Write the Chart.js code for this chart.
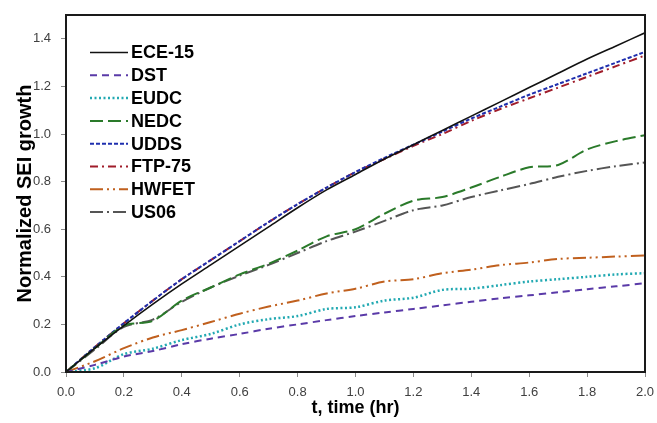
<!DOCTYPE html>
<html>
<head>
<meta charset="utf-8">
<script src="https://cdn.jsdelivr.net/npm/chart.js@4.4.1/dist/chart.umd.min.js"></script>
<style>
    html, body { margin: 0; padding: 0; background: #fff; }
    #wrap { width: 657px; height: 423px; }
</style>
</head>
<body>
<div id="wrap"><canvas id="chart-sei" width="657" height="423"></canvas></div>
<script>
// time axis (hr)
var tHours = [0, 0.1, 0.2, 0.3, 0.4, 0.5, 0.6, 0.7, 0.8, 0.9, 1.0, 1.1, 1.2, 1.3, 1.4, 1.5, 1.6, 1.7, 1.8, 1.9, 2.0];

// normalized SEI growth
var ece15 = [0, 0.10, 0.195, 0.285, 0.37, 0.45, 0.53, 0.61, 0.69, 0.765, 0.83, 0.895, 0.955, 1.015, 1.075, 1.135, 1.195, 1.255, 1.315, 1.37, 1.425];
var dst = [0, 0.03, 0.065, 0.088, 0.117, 0.14, 0.16, 0.182, 0.2, 0.218, 0.235, 0.25, 0.265, 0.28, 0.295, 0.31, 0.322, 0.335, 0.348, 0.36, 0.373];
var eudc = [0, 0.016, 0.075, 0.098, 0.134, 0.16, 0.2, 0.222, 0.235, 0.265, 0.272, 0.3, 0.312, 0.345, 0.35, 0.365, 0.38, 0.39, 0.40, 0.41, 0.415];
var nedc = [0, 0.10, 0.195, 0.215, 0.30, 0.355, 0.41, 0.455, 0.51, 0.57, 0.60, 0.665, 0.72, 0.735, 0.775, 0.82, 0.86, 0.87, 0.935, 0.97, 0.995];
var udds = [0, 0.105, 0.205, 0.30, 0.39, 0.47, 0.55, 0.63, 0.705, 0.775, 0.84, 0.90, 0.955, 1.01, 1.065, 1.115, 1.165, 1.21, 1.255, 1.30, 1.345];
var ftp75 = [0, 0.105, 0.205, 0.30, 0.39, 0.47, 0.55, 0.63, 0.705, 0.775, 0.84, 0.895, 0.95, 1.0, 1.055, 1.105, 1.15, 1.195, 1.24, 1.285, 1.33];
var hwfet = [0, 0.045, 0.10, 0.145, 0.176, 0.21, 0.245, 0.275, 0.30, 0.33, 0.35, 0.38, 0.39, 0.415, 0.43, 0.449, 0.46, 0.475, 0.48, 0.485, 0.49];
var us06 = [0, 0.095, 0.19, 0.22, 0.295, 0.355, 0.405, 0.45, 0.50, 0.55, 0.59, 0.635, 0.68, 0.70, 0.735, 0.763, 0.79, 0.82, 0.845, 0.865, 0.88];

var xTicks = [0, 0.2, 0.4, 0.6, 0.8, 1.0, 1.2, 1.4, 1.6, 1.8, 2.0];
var yTicks = [0, 0.2, 0.4, 0.6, 0.8, 1.0, 1.2, 1.4];

function toPoints(vals) {
    var pts = [];
    for (var i = 0; i < tHours.length; i++) {
        pts.push({ x: tHours[i], y: vals[i] });
    }
    return pts;
}

function series(label, vals, color, dash, width) {
    return {
        label: label,
        data: toPoints(vals),
        borderColor: color,
        backgroundColor: color,
        borderDash: dash,
        borderWidth: width,
        pointRadius: 0,
        tension: 0.3,
        fill: false
    };
}

// legend drawn inside the plot, top left, like the original
var insideLegend = {
    id: 'insideLegend',
    afterDatasetsDraw: function(chart) {
        var ctx = chart.ctx;
        var area = chart.chartArea;
        // plot box on all four sides
        ctx.save();
        ctx.strokeStyle = '#1a1a1a';
        ctx.lineWidth = 2;
        ctx.setLineDash([]);
        ctx.strokeRect(area.left, area.top, area.right - area.left, area.bottom - area.top);

        var x0 = 90, x1 = 128, y0 = 52.5, step = 22.8;
        ctx.font = 'bold 18px "Liberation Sans", Arial, sans-serif';
        ctx.textBaseline = 'middle';
        ctx.textAlign = 'left';
        chart.data.datasets.forEach(function(ds, i) {
            var y = y0 + i * step;
            ctx.beginPath();
            ctx.strokeStyle = ds.borderColor;
            ctx.lineWidth = ds.borderWidth;
            ctx.setLineDash(ds.borderDash);
            ctx.moveTo(x0, y);
            ctx.lineTo(x1, y);
            ctx.stroke();
            ctx.setLineDash([]);
            ctx.fillStyle = '#000';
            ctx.fillText(ds.label, x1 + 3, y + 1);
        });
        ctx.restore();
    }
};

var tickFont = { family: '"Liberation Sans", Arial, sans-serif', size: 13 };

var chartSEI = new Chart(document.getElementById('chart-sei'), {
    type: 'line',
    data: {
        datasets: [
            series('ECE-15', ece15, '#111111', [], 1.6),
            series('DST', dst, '#5a3aa8', [7, 5], 2),
            series('EUDC', eudc, '#22a9b2', [2, 2.5], 2.5),
            series('NEDC', nedc, '#2a7a2a', [13, 5], 2),
            series('UDDS', udds, '#1f2fae', [4, 2], 2),
            series('FTP-75', ftp75, '#a01c2a', [8, 4, 2, 4], 2),
            series('HWFET', hwfet, '#c0601e', [13, 4, 2, 4, 2, 4], 2),
            series('US06', us06, '#555555', [13, 4, 2, 4], 2)
        ]
    },
    options: {
        responsive: false,
        animation: false,
        layout: { padding: { top: 15, right: 12, left: 0, bottom: 0 } },
        plugins: {
            legend: { display: false },
            tooltip: { enabled: false }
        },
        scales: {
            x: {
                type: 'linear',
                min: 0,
                max: 2,
                afterBuildTicks: function(axis) {
                    axis.ticks = xTicks.map(function(v) { return { value: v }; });
                },
                afterFit: function(axis) {
                    axis.height = 51;
                    axis.paddingLeft = 0;
                    axis.paddingRight = 0;
                },
                ticks: {
                    font: tickFont,
                    color: '#404040',
                    padding: 8,
                    callback: function(v) { return v.toFixed(1); }
                },
                grid: { drawOnChartArea: false, tickLength: 5, color: '#8a8a8a' },
                border: { color: '#1a1a1a', width: 2 },
                title: {
                    display: true,
                    text: 't, time (hr)',
                    font: { family: '"Liberation Sans", Arial, sans-serif', size: 18, weight: 'bold' },
                    color: '#000',
                    padding: { top: 0, bottom: 4 }
                }
            },
            y: {
                type: 'linear',
                min: 0,
                max: 1.5,
                afterBuildTicks: function(axis) {
                    axis.ticks = yTicks.map(function(v) { return { value: v }; });
                },
                afterFit: function(axis) {
                    axis.width = 66;
                    axis.paddingTop = 0;
                    axis.paddingBottom = 0;
                },
                ticks: {
                    font: tickFont,
                    color: '#404040',
                    padding: 10,
                    callback: function(v) { return v.toFixed(1); }
                },
                grid: { drawOnChartArea: false, tickLength: 5, color: '#8a8a8a' },
                border: { color: '#1a1a1a', width: 2 },
                title: {
                    display: true,
                    text: 'Normalized SEI growth',
                    font: { family: '"Liberation Sans", Arial, sans-serif', size: 20, weight: 'bold' },
                    color: '#000',
                    padding: { top: 13, bottom: 0 }
                }
            }
        }
    },
    plugins: [insideLegend]
});
</script>
</body>
</html>
